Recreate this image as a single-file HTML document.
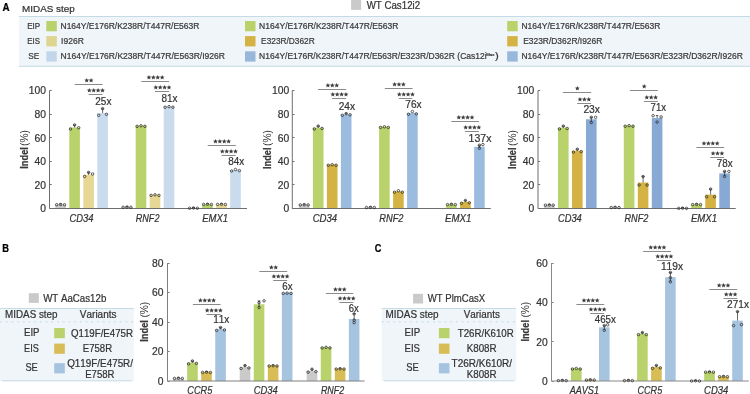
<!DOCTYPE html>
<html><head><meta charset="utf-8"><style>
html,body{margin:0;padding:0;background:#fff;width:750px;height:394px;overflow:hidden}
svg{display:block;will-change:transform}
text{font-family:"Liberation Sans",sans-serif}
</style></head><body>
<svg width="750" height="394" viewBox="0 0 750 394" font-family="Liberation Sans, sans-serif" fill="#333" style="font-kerning:none">
<rect x="0.00" y="0.00" width="750.00" height="394.00" fill="#ffffff"/>
<text x="2.46" y="10.60" font-size="10.20" font-weight="bold" fill="#000" stroke="#000" stroke-width="0.22" textLength="7.10" lengthAdjust="spacingAndGlyphs">A</text>
<text x="22.09" y="12.20" font-size="9.70" stroke="#333" stroke-width="0.22" textLength="52.62" lengthAdjust="spacingAndGlyphs">MIDAS step</text>
<rect x="351.10" y="-1.00" width="10.00" height="10.90" fill="#cacaca"/>
<text x="366.66" y="8.70" font-size="10.00" stroke="#333" stroke-width="0.22" textLength="53.43" lengthAdjust="spacingAndGlyphs">WT Cas12i2</text>
<rect x="19.00" y="16.00" width="731.00" height="50.50" fill="#f0f5f9"/>
<line x1="19.00" y1="16.50" x2="750.00" y2="16.50" stroke="#c4dbe6" stroke-width="1.00"/>
<line x1="19.00" y1="66.30" x2="750.00" y2="66.30" stroke="#c4dbe6" stroke-width="1.00"/>
<text x="27.24" y="29.20" font-size="8.70" fill="#3a3a3a" stroke="#3a3a3a" stroke-width="0.22" textLength="12.99" lengthAdjust="spacingAndGlyphs">EIP</text>
<text x="27.25" y="44.30" font-size="8.70" fill="#3a3a3a" stroke="#3a3a3a" stroke-width="0.22" textLength="12.71" lengthAdjust="spacingAndGlyphs">EIS</text>
<text x="28.32" y="59.20" font-size="8.70" fill="#3a3a3a" stroke="#3a3a3a" stroke-width="0.22" textLength="11.03" lengthAdjust="spacingAndGlyphs">SE</text>
<rect x="46.30" y="21.00" width="10.50" height="10.30" fill="#b9d26b"/>
<rect x="46.30" y="36.10" width="10.50" height="10.30" fill="#ddd590"/>
<rect x="46.30" y="51.30" width="10.50" height="10.30" fill="#c1d6eb"/>
<rect x="245.00" y="21.00" width="10.50" height="10.30" fill="#b9d26b"/>
<rect x="245.00" y="36.10" width="10.50" height="10.30" fill="#d4b344"/>
<rect x="245.00" y="51.30" width="10.50" height="10.30" fill="#98b8db"/>
<rect x="507.20" y="21.00" width="10.50" height="10.30" fill="#b9d26b"/>
<rect x="507.20" y="36.10" width="10.50" height="10.30" fill="#d4b344"/>
<rect x="507.20" y="51.30" width="10.50" height="10.30" fill="#98b8db"/>
<text x="60.50" y="29.20" font-size="8.70" fill="#3a3a3a" stroke="#3a3a3a" stroke-width="0.22" textLength="138.89" lengthAdjust="spacingAndGlyphs">N164Y/E176R/K238R/T447R/E563R</text>
<text x="61.12" y="44.30" font-size="8.70" fill="#3a3a3a" stroke="#3a3a3a" stroke-width="0.22" textLength="22.68" lengthAdjust="spacingAndGlyphs">I926R</text>
<text x="60.50" y="59.20" font-size="8.70" fill="#3a3a3a" stroke="#3a3a3a" stroke-width="0.22" textLength="164.50" lengthAdjust="spacingAndGlyphs">N164Y/E176R/K238R/T447R/E563R/I926R</text>
<text x="259.10" y="29.20" font-size="8.70" fill="#3a3a3a" stroke="#3a3a3a" stroke-width="0.22" textLength="139.19" lengthAdjust="spacingAndGlyphs">N164Y/E176R/K238R/T447R/E563R</text>
<text x="261.12" y="44.30" font-size="8.70" fill="#3a3a3a" stroke="#3a3a3a" stroke-width="0.22" textLength="53.57" lengthAdjust="spacingAndGlyphs">E323R/D362R</text>
<text x="259.10" y="59.20" font-size="8.70" fill="#3a3a3a" stroke="#3a3a3a" stroke-width="0.22" textLength="227.47" lengthAdjust="spacingAndGlyphs">N164Y/E176R/K238R/T447R/E563R/E323R/D362R (Cas12i</text>
<text x="486.24" y="56.40" font-size="4.00" fill="#3a3a3a" stroke="#3a3a3a" stroke-width="0.22" textLength="8.20" lengthAdjust="spacingAndGlyphs">Max</text>
<text x="494.93" y="59.20" font-size="8.70" fill="#3a3a3a" stroke="#3a3a3a" stroke-width="0.22" textLength="3.77" lengthAdjust="spacingAndGlyphs">)</text>
<text x="521.40" y="29.20" font-size="8.70" fill="#3a3a3a" stroke="#3a3a3a" stroke-width="0.22" textLength="138.99" lengthAdjust="spacingAndGlyphs">N164Y/E176R/K238R/T447R/E563R</text>
<text x="523.21" y="44.30" font-size="8.70" fill="#3a3a3a" stroke="#3a3a3a" stroke-width="0.22" textLength="79.08" lengthAdjust="spacingAndGlyphs">E323R/D362R/I926R</text>
<text x="521.40" y="59.20" font-size="8.70" fill="#3a3a3a" stroke="#3a3a3a" stroke-width="0.22" textLength="221.39" lengthAdjust="spacingAndGlyphs">N164Y/E176R/K238R/T447R/E563R/E323R/D362R/I926R</text>
<rect x="55.30" y="204.49" width="10.60" height="4.01" fill="#cacaca"/>
<rect x="69.30" y="127.55" width="10.60" height="80.95" fill="#b9d26b"/>
<rect x="83.30" y="174.75" width="10.60" height="33.75" fill="#e6d794"/>
<rect x="97.30" y="113.04" width="10.60" height="95.46" fill="#c9dbec"/>
<rect x="121.70" y="207.08" width="10.60" height="1.42" fill="#cacaca"/>
<rect x="135.70" y="125.55" width="10.60" height="82.95" fill="#b9d26b"/>
<rect x="149.70" y="194.58" width="10.60" height="13.92" fill="#e6d794"/>
<rect x="163.70" y="106.43" width="10.60" height="102.07" fill="#c9dbec"/>
<rect x="188.20" y="208.03" width="10.60" height="0.47" fill="#cacaca"/>
<rect x="202.20" y="204.25" width="10.60" height="4.25" fill="#b9d26b"/>
<rect x="216.20" y="204.25" width="10.60" height="4.25" fill="#e6d794"/>
<rect x="230.20" y="170.03" width="10.60" height="38.47" fill="#c9dbec"/>
<line x1="49.50" y1="208.50" x2="247.00" y2="208.50" stroke="#6e6e6e" stroke-width="1.00"/>
<line x1="49.50" y1="90.50" x2="49.50" y2="208.50" stroke="#6e6e6e" stroke-width="1.00"/>
<line x1="49.50" y1="208.50" x2="51.70" y2="208.50" stroke="#6e6e6e" stroke-width="1.00"/>
<text x="40.15" y="212.40" font-size="11.00" stroke="#333" stroke-width="0.22" textLength="5.75" lengthAdjust="spacingAndGlyphs">0</text>
<line x1="49.50" y1="184.50" x2="51.70" y2="184.50" stroke="#6e6e6e" stroke-width="1.00"/>
<text x="34.40" y="188.80" font-size="11.00" stroke="#333" stroke-width="0.22" textLength="11.50" lengthAdjust="spacingAndGlyphs">20</text>
<line x1="49.50" y1="161.50" x2="51.70" y2="161.50" stroke="#6e6e6e" stroke-width="1.00"/>
<text x="34.40" y="165.20" font-size="11.00" stroke="#333" stroke-width="0.22" textLength="11.50" lengthAdjust="spacingAndGlyphs">40</text>
<line x1="49.50" y1="137.50" x2="51.70" y2="137.50" stroke="#6e6e6e" stroke-width="1.00"/>
<text x="34.40" y="141.60" font-size="11.00" stroke="#333" stroke-width="0.22" textLength="11.50" lengthAdjust="spacingAndGlyphs">60</text>
<line x1="49.50" y1="114.50" x2="51.70" y2="114.50" stroke="#6e6e6e" stroke-width="1.00"/>
<text x="34.40" y="118.00" font-size="11.00" stroke="#333" stroke-width="0.22" textLength="11.50" lengthAdjust="spacingAndGlyphs">80</text>
<line x1="49.50" y1="90.50" x2="51.70" y2="90.50" stroke="#6e6e6e" stroke-width="1.00"/>
<text x="28.65" y="94.40" font-size="11.00" stroke="#333" stroke-width="0.22" textLength="17.25" lengthAdjust="spacingAndGlyphs">100</text>
<line x1="60.60" y1="203.89" x2="60.60" y2="204.49" stroke="#2a2a2a" stroke-width="0.70"/>
<line x1="59.30" y1="203.89" x2="61.90" y2="203.89" stroke="#2a2a2a" stroke-width="0.70"/>
<circle cx="56.70" cy="204.69" r="1.25" fill="none" stroke="#2a2a2a" stroke-width="0.75"/>
<circle cx="60.60" cy="204.49" r="1.25" fill="none" stroke="#2a2a2a" stroke-width="0.75"/>
<circle cx="64.50" cy="204.69" r="1.25" fill="none" stroke="#2a2a2a" stroke-width="0.75"/>
<line x1="74.60" y1="124.95" x2="74.60" y2="127.55" stroke="#2a2a2a" stroke-width="0.70"/>
<line x1="73.30" y1="124.95" x2="75.90" y2="124.95" stroke="#2a2a2a" stroke-width="0.70"/>
<circle cx="70.50" cy="129.05" r="1.25" fill="none" stroke="#2a2a2a" stroke-width="0.75"/>
<circle cx="78.70" cy="127.75" r="1.25" fill="none" stroke="#2a2a2a" stroke-width="0.75"/>
<circle cx="74.60" cy="124.95" r="1.25" fill="none" stroke="#2a2a2a" stroke-width="0.75"/>
<line x1="88.60" y1="172.25" x2="88.60" y2="174.75" stroke="#2a2a2a" stroke-width="0.70"/>
<line x1="87.30" y1="172.25" x2="89.90" y2="172.25" stroke="#2a2a2a" stroke-width="0.70"/>
<circle cx="84.60" cy="176.45" r="1.25" fill="none" stroke="#2a2a2a" stroke-width="0.75"/>
<circle cx="92.60" cy="173.95" r="1.25" fill="none" stroke="#2a2a2a" stroke-width="0.75"/>
<circle cx="88.60" cy="172.45" r="1.25" fill="none" stroke="#2a2a2a" stroke-width="0.75"/>
<line x1="102.60" y1="108.64" x2="102.60" y2="113.04" stroke="#2a2a2a" stroke-width="0.70"/>
<line x1="101.30" y1="108.64" x2="103.90" y2="108.64" stroke="#2a2a2a" stroke-width="0.70"/>
<circle cx="98.70" cy="115.34" r="1.25" fill="none" stroke="#2a2a2a" stroke-width="0.75"/>
<circle cx="106.50" cy="114.34" r="1.25" fill="none" stroke="#2a2a2a" stroke-width="0.75"/>
<circle cx="102.60" cy="108.64" r="1.25" fill="none" stroke="#2a2a2a" stroke-width="0.75"/>
<line x1="127.00" y1="206.48" x2="127.00" y2="207.08" stroke="#2a2a2a" stroke-width="0.70"/>
<line x1="125.70" y1="206.48" x2="128.30" y2="206.48" stroke="#2a2a2a" stroke-width="0.70"/>
<circle cx="123.10" cy="207.28" r="1.25" fill="none" stroke="#2a2a2a" stroke-width="0.75"/>
<circle cx="127.00" cy="207.08" r="1.25" fill="none" stroke="#2a2a2a" stroke-width="0.75"/>
<circle cx="130.90" cy="207.28" r="1.25" fill="none" stroke="#2a2a2a" stroke-width="0.75"/>
<circle cx="137.10" cy="126.35" r="1.25" fill="none" stroke="#2a2a2a" stroke-width="0.75"/>
<circle cx="141.00" cy="125.75" r="1.25" fill="none" stroke="#2a2a2a" stroke-width="0.75"/>
<circle cx="144.90" cy="126.35" r="1.25" fill="none" stroke="#2a2a2a" stroke-width="0.75"/>
<circle cx="151.10" cy="195.38" r="1.25" fill="none" stroke="#2a2a2a" stroke-width="0.75"/>
<circle cx="155.00" cy="194.78" r="1.25" fill="none" stroke="#2a2a2a" stroke-width="0.75"/>
<circle cx="158.90" cy="195.38" r="1.25" fill="none" stroke="#2a2a2a" stroke-width="0.75"/>
<circle cx="165.10" cy="107.23" r="1.25" fill="none" stroke="#2a2a2a" stroke-width="0.75"/>
<circle cx="169.00" cy="106.63" r="1.25" fill="none" stroke="#2a2a2a" stroke-width="0.75"/>
<circle cx="172.90" cy="107.23" r="1.25" fill="none" stroke="#2a2a2a" stroke-width="0.75"/>
<line x1="193.50" y1="207.43" x2="193.50" y2="208.03" stroke="#2a2a2a" stroke-width="0.70"/>
<line x1="192.20" y1="207.43" x2="194.80" y2="207.43" stroke="#2a2a2a" stroke-width="0.70"/>
<circle cx="189.60" cy="208.23" r="1.25" fill="none" stroke="#2a2a2a" stroke-width="0.75"/>
<circle cx="193.50" cy="208.03" r="1.25" fill="none" stroke="#2a2a2a" stroke-width="0.75"/>
<circle cx="197.40" cy="208.23" r="1.25" fill="none" stroke="#2a2a2a" stroke-width="0.75"/>
<line x1="207.50" y1="203.65" x2="207.50" y2="204.25" stroke="#2a2a2a" stroke-width="0.70"/>
<line x1="206.20" y1="203.65" x2="208.80" y2="203.65" stroke="#2a2a2a" stroke-width="0.70"/>
<circle cx="203.60" cy="204.45" r="1.25" fill="none" stroke="#2a2a2a" stroke-width="0.75"/>
<circle cx="207.50" cy="204.25" r="1.25" fill="none" stroke="#2a2a2a" stroke-width="0.75"/>
<circle cx="211.40" cy="204.45" r="1.25" fill="none" stroke="#2a2a2a" stroke-width="0.75"/>
<line x1="221.50" y1="203.65" x2="221.50" y2="204.25" stroke="#2a2a2a" stroke-width="0.70"/>
<line x1="220.20" y1="203.65" x2="222.80" y2="203.65" stroke="#2a2a2a" stroke-width="0.70"/>
<circle cx="217.60" cy="204.45" r="1.25" fill="none" stroke="#2a2a2a" stroke-width="0.75"/>
<circle cx="221.50" cy="204.25" r="1.25" fill="none" stroke="#2a2a2a" stroke-width="0.75"/>
<circle cx="225.40" cy="204.45" r="1.25" fill="none" stroke="#2a2a2a" stroke-width="0.75"/>
<circle cx="231.60" cy="171.03" r="1.25" fill="none" stroke="#2a2a2a" stroke-width="0.75"/>
<circle cx="235.50" cy="169.53" r="1.25" fill="none" stroke="#2a2a2a" stroke-width="0.75"/>
<circle cx="239.40" cy="170.63" r="1.25" fill="none" stroke="#2a2a2a" stroke-width="0.75"/>
<line x1="74.60" y1="84.50" x2="102.60" y2="84.50" stroke="#8a8a8a" stroke-width="1.00"/>
<polygon points="86.70,77.88 87.37,79.51 89.13,79.65 87.79,80.79 88.20,82.50 86.70,81.58 85.20,82.50 85.61,80.79 84.27,79.65 86.03,79.51" fill="#3c3c3c"/>
<polygon points="91.10,77.88 91.77,79.51 93.53,79.65 92.19,80.79 92.60,82.50 91.10,81.58 89.60,82.50 90.01,80.79 88.67,79.65 90.43,79.51" fill="#3c3c3c"/>
<line x1="88.70" y1="94.50" x2="102.50" y2="94.50" stroke="#8a8a8a" stroke-width="1.00"/>
<polygon points="89.30,87.88 89.97,89.51 91.73,89.65 90.39,90.79 90.80,92.50 89.30,91.58 87.80,92.50 88.21,90.79 86.87,89.65 88.63,89.51" fill="#3c3c3c"/>
<polygon points="93.70,87.88 94.37,89.51 96.13,89.65 94.79,90.79 95.20,92.50 93.70,91.58 92.20,92.50 92.61,90.79 91.27,89.65 93.03,89.51" fill="#3c3c3c"/>
<polygon points="98.10,87.88 98.77,89.51 100.53,89.65 99.19,90.79 99.60,92.50 98.10,91.58 96.60,92.50 97.01,90.79 95.67,89.65 97.43,89.51" fill="#3c3c3c"/>
<polygon points="102.50,87.88 103.17,89.51 104.93,89.65 103.59,90.79 104.00,92.50 102.50,91.58 101.00,92.50 101.41,90.79 100.07,89.65 101.83,89.51" fill="#3c3c3c"/>
<text x="95.30" y="105.00" font-size="11.00" stroke="#333" stroke-width="0.22" textLength="16.11" lengthAdjust="spacingAndGlyphs">25x</text>
<line x1="141.30" y1="81.50" x2="169.20" y2="81.50" stroke="#8a8a8a" stroke-width="1.00"/>
<polygon points="148.95,74.88 149.62,76.51 151.38,76.65 150.04,77.79 150.45,79.50 148.95,78.58 147.45,79.50 147.86,77.79 146.52,76.65 148.28,76.51" fill="#3c3c3c"/>
<polygon points="153.35,74.88 154.02,76.51 155.78,76.65 154.44,77.79 154.85,79.50 153.35,78.58 151.85,79.50 152.26,77.79 150.92,76.65 152.68,76.51" fill="#3c3c3c"/>
<polygon points="157.75,74.88 158.42,76.51 160.18,76.65 158.84,77.79 159.25,79.50 157.75,78.58 156.25,79.50 156.66,77.79 155.32,76.65 157.08,76.51" fill="#3c3c3c"/>
<polygon points="162.15,74.88 162.82,76.51 164.58,76.65 163.24,77.79 163.65,79.50 162.15,78.58 160.65,79.50 161.06,77.79 159.72,76.65 161.48,76.51" fill="#3c3c3c"/>
<line x1="155.00" y1="91.50" x2="169.20" y2="91.50" stroke="#8a8a8a" stroke-width="1.00"/>
<polygon points="155.80,84.88 156.47,86.51 158.23,86.65 156.89,87.79 157.30,89.50 155.80,88.58 154.30,89.50 154.71,87.79 153.37,86.65 155.13,86.51" fill="#3c3c3c"/>
<polygon points="160.20,84.88 160.87,86.51 162.63,86.65 161.29,87.79 161.70,89.50 160.20,88.58 158.70,89.50 159.11,87.79 157.77,86.65 159.53,86.51" fill="#3c3c3c"/>
<polygon points="164.60,84.88 165.27,86.51 167.03,86.65 165.69,87.79 166.10,89.50 164.60,88.58 163.10,89.50 163.51,87.79 162.17,86.65 163.93,86.51" fill="#3c3c3c"/>
<polygon points="169.00,84.88 169.67,86.51 171.43,86.65 170.09,87.79 170.50,89.50 169.00,88.58 167.50,89.50 167.91,87.79 166.57,86.65 168.33,86.51" fill="#3c3c3c"/>
<text x="161.57" y="102.00" font-size="11.00" stroke="#333" stroke-width="0.22" textLength="16.04" lengthAdjust="spacingAndGlyphs">81x</text>
<line x1="207.70" y1="145.50" x2="235.80" y2="145.50" stroke="#8a8a8a" stroke-width="1.00"/>
<polygon points="215.45,138.88 216.12,140.51 217.88,140.65 216.54,141.79 216.95,143.50 215.45,142.58 213.95,143.50 214.36,141.79 213.02,140.65 214.78,140.51" fill="#3c3c3c"/>
<polygon points="219.85,138.88 220.52,140.51 222.28,140.65 220.94,141.79 221.35,143.50 219.85,142.58 218.35,143.50 218.76,141.79 217.42,140.65 219.18,140.51" fill="#3c3c3c"/>
<polygon points="224.25,138.88 224.92,140.51 226.68,140.65 225.34,141.79 225.75,143.50 224.25,142.58 222.75,143.50 223.16,141.79 221.82,140.65 223.58,140.51" fill="#3c3c3c"/>
<polygon points="228.65,138.88 229.32,140.51 231.08,140.65 229.74,141.79 230.15,143.50 228.65,142.58 227.15,143.50 227.56,141.79 226.22,140.65 227.98,140.51" fill="#3c3c3c"/>
<line x1="221.60" y1="155.50" x2="235.60" y2="155.50" stroke="#8a8a8a" stroke-width="1.00"/>
<polygon points="222.30,148.88 222.97,150.51 224.73,150.65 223.39,151.79 223.80,153.50 222.30,152.58 220.80,153.50 221.21,151.79 219.87,150.65 221.63,150.51" fill="#3c3c3c"/>
<polygon points="226.70,148.88 227.37,150.51 229.13,150.65 227.79,151.79 228.20,153.50 226.70,152.58 225.20,153.50 225.61,151.79 224.27,150.65 226.03,150.51" fill="#3c3c3c"/>
<polygon points="231.10,148.88 231.77,150.51 233.53,150.65 232.19,151.79 232.60,153.50 231.10,152.58 229.60,153.50 230.01,151.79 228.67,150.65 230.43,150.51" fill="#3c3c3c"/>
<polygon points="235.50,148.88 236.17,150.51 237.93,150.65 236.59,151.79 237.00,153.50 235.50,152.58 234.00,153.50 234.41,151.79 233.07,150.65 234.83,150.51" fill="#3c3c3c"/>
<text x="228.37" y="165.40" font-size="11.00" stroke="#333" stroke-width="0.22" textLength="15.94" lengthAdjust="spacingAndGlyphs">84x</text>
<text x="69.38" y="221.70" font-size="10.40" font-style="italic" stroke="#333" stroke-width="0.22" textLength="24.07" lengthAdjust="spacingAndGlyphs">CD34</text>
<text x="135.82" y="221.70" font-size="10.40" font-style="italic" stroke="#333" stroke-width="0.22" textLength="23.61" lengthAdjust="spacingAndGlyphs">RNF2</text>
<text x="202.21" y="221.70" font-size="10.40" font-style="italic" stroke="#333" stroke-width="0.22" textLength="25.90" lengthAdjust="spacingAndGlyphs">EMX1</text>
<text transform="rotate(-90)" x="-168.72" y="28.20" font-size="10.00" font-weight="bold" fill="#3a3a3a" stroke="#3a3a3a" stroke-width="0.22" textLength="21.57" lengthAdjust="spacingAndGlyphs">Indel</text>
<text transform="rotate(-90)" x="-145.93" y="28.20" font-size="10.00" textLength="15.87" lengthAdjust="spacingAndGlyphs" stroke="none">(%)</text>
<rect x="298.90" y="204.72" width="10.60" height="3.78" fill="#cacaca"/>
<rect x="312.90" y="127.67" width="10.60" height="80.83" fill="#b9d26b"/>
<rect x="326.90" y="164.49" width="10.60" height="44.01" fill="#d4b344"/>
<rect x="340.90" y="114.45" width="10.60" height="94.05" fill="#9bbcdf"/>
<rect x="365.10" y="207.32" width="10.60" height="1.18" fill="#cacaca"/>
<rect x="379.10" y="126.61" width="10.60" height="81.89" fill="#b9d26b"/>
<rect x="393.10" y="191.39" width="10.60" height="17.11" fill="#d4b344"/>
<rect x="407.10" y="113.04" width="10.60" height="95.46" fill="#9bbcdf"/>
<rect x="432.10" y="208.26" width="10.60" height="0.24" fill="#cacaca"/>
<rect x="446.10" y="204.37" width="10.60" height="4.13" fill="#b9d26b"/>
<rect x="460.10" y="202.01" width="10.60" height="6.49" fill="#d4b344"/>
<rect x="474.10" y="146.79" width="10.60" height="61.71" fill="#9bbcdf"/>
<line x1="292.30" y1="208.50" x2="490.80" y2="208.50" stroke="#6e6e6e" stroke-width="1.00"/>
<line x1="292.30" y1="90.50" x2="292.30" y2="208.50" stroke="#6e6e6e" stroke-width="1.00"/>
<line x1="292.30" y1="208.50" x2="294.50" y2="208.50" stroke="#6e6e6e" stroke-width="1.00"/>
<text x="283.55" y="212.40" font-size="11.00" stroke="#333" stroke-width="0.22" textLength="5.75" lengthAdjust="spacingAndGlyphs">0</text>
<line x1="292.30" y1="184.50" x2="294.50" y2="184.50" stroke="#6e6e6e" stroke-width="1.00"/>
<text x="277.80" y="188.80" font-size="11.00" stroke="#333" stroke-width="0.22" textLength="11.50" lengthAdjust="spacingAndGlyphs">20</text>
<line x1="292.30" y1="161.50" x2="294.50" y2="161.50" stroke="#6e6e6e" stroke-width="1.00"/>
<text x="277.80" y="165.20" font-size="11.00" stroke="#333" stroke-width="0.22" textLength="11.50" lengthAdjust="spacingAndGlyphs">40</text>
<line x1="292.30" y1="137.50" x2="294.50" y2="137.50" stroke="#6e6e6e" stroke-width="1.00"/>
<text x="277.80" y="141.60" font-size="11.00" stroke="#333" stroke-width="0.22" textLength="11.50" lengthAdjust="spacingAndGlyphs">60</text>
<line x1="292.30" y1="114.50" x2="294.50" y2="114.50" stroke="#6e6e6e" stroke-width="1.00"/>
<text x="277.80" y="118.00" font-size="11.00" stroke="#333" stroke-width="0.22" textLength="11.50" lengthAdjust="spacingAndGlyphs">80</text>
<line x1="292.30" y1="90.50" x2="294.50" y2="90.50" stroke="#6e6e6e" stroke-width="1.00"/>
<text x="272.05" y="94.40" font-size="11.00" stroke="#333" stroke-width="0.22" textLength="17.25" lengthAdjust="spacingAndGlyphs">100</text>
<line x1="304.20" y1="204.12" x2="304.20" y2="204.72" stroke="#2a2a2a" stroke-width="0.70"/>
<line x1="302.90" y1="204.12" x2="305.50" y2="204.12" stroke="#2a2a2a" stroke-width="0.70"/>
<circle cx="300.30" cy="204.92" r="1.25" fill="none" stroke="#2a2a2a" stroke-width="0.75"/>
<circle cx="304.20" cy="204.72" r="1.25" fill="none" stroke="#2a2a2a" stroke-width="0.75"/>
<circle cx="308.10" cy="204.92" r="1.25" fill="none" stroke="#2a2a2a" stroke-width="0.75"/>
<line x1="318.20" y1="126.07" x2="318.20" y2="127.67" stroke="#2a2a2a" stroke-width="0.70"/>
<line x1="316.90" y1="126.07" x2="319.50" y2="126.07" stroke="#2a2a2a" stroke-width="0.70"/>
<circle cx="314.30" cy="128.97" r="1.25" fill="none" stroke="#2a2a2a" stroke-width="0.75"/>
<circle cx="322.10" cy="128.47" r="1.25" fill="none" stroke="#2a2a2a" stroke-width="0.75"/>
<circle cx="318.20" cy="126.07" r="1.25" fill="none" stroke="#2a2a2a" stroke-width="0.75"/>
<circle cx="328.30" cy="165.29" r="1.25" fill="none" stroke="#2a2a2a" stroke-width="0.75"/>
<circle cx="332.20" cy="164.69" r="1.25" fill="none" stroke="#2a2a2a" stroke-width="0.75"/>
<circle cx="336.10" cy="165.29" r="1.25" fill="none" stroke="#2a2a2a" stroke-width="0.75"/>
<line x1="346.20" y1="113.25" x2="346.20" y2="114.45" stroke="#2a2a2a" stroke-width="0.70"/>
<line x1="344.90" y1="113.25" x2="347.50" y2="113.25" stroke="#2a2a2a" stroke-width="0.70"/>
<circle cx="342.30" cy="115.25" r="1.25" fill="none" stroke="#2a2a2a" stroke-width="0.75"/>
<circle cx="350.10" cy="114.75" r="1.25" fill="none" stroke="#2a2a2a" stroke-width="0.75"/>
<circle cx="346.20" cy="113.65" r="1.25" fill="none" stroke="#2a2a2a" stroke-width="0.75"/>
<line x1="370.40" y1="206.72" x2="370.40" y2="207.32" stroke="#2a2a2a" stroke-width="0.70"/>
<line x1="369.10" y1="206.72" x2="371.70" y2="206.72" stroke="#2a2a2a" stroke-width="0.70"/>
<circle cx="366.50" cy="207.52" r="1.25" fill="none" stroke="#2a2a2a" stroke-width="0.75"/>
<circle cx="370.40" cy="207.32" r="1.25" fill="none" stroke="#2a2a2a" stroke-width="0.75"/>
<circle cx="374.30" cy="207.52" r="1.25" fill="none" stroke="#2a2a2a" stroke-width="0.75"/>
<circle cx="380.50" cy="127.41" r="1.25" fill="none" stroke="#2a2a2a" stroke-width="0.75"/>
<circle cx="384.40" cy="126.81" r="1.25" fill="none" stroke="#2a2a2a" stroke-width="0.75"/>
<circle cx="388.30" cy="127.41" r="1.25" fill="none" stroke="#2a2a2a" stroke-width="0.75"/>
<circle cx="394.50" cy="192.19" r="1.25" fill="none" stroke="#2a2a2a" stroke-width="0.75"/>
<circle cx="398.40" cy="190.79" r="1.25" fill="none" stroke="#2a2a2a" stroke-width="0.75"/>
<circle cx="402.30" cy="192.19" r="1.25" fill="none" stroke="#2a2a2a" stroke-width="0.75"/>
<circle cx="408.50" cy="114.24" r="1.25" fill="none" stroke="#2a2a2a" stroke-width="0.75"/>
<circle cx="416.30" cy="113.84" r="1.25" fill="none" stroke="#2a2a2a" stroke-width="0.75"/>
<circle cx="412.40" cy="111.54" r="1.25" fill="none" stroke="#2a2a2a" stroke-width="0.75"/>
<line x1="451.40" y1="203.77" x2="451.40" y2="204.37" stroke="#2a2a2a" stroke-width="0.70"/>
<line x1="450.10" y1="203.77" x2="452.70" y2="203.77" stroke="#2a2a2a" stroke-width="0.70"/>
<circle cx="447.50" cy="204.57" r="1.25" fill="none" stroke="#2a2a2a" stroke-width="0.75"/>
<circle cx="451.40" cy="204.37" r="1.25" fill="none" stroke="#2a2a2a" stroke-width="0.75"/>
<circle cx="455.30" cy="204.57" r="1.25" fill="none" stroke="#2a2a2a" stroke-width="0.75"/>
<line x1="465.40" y1="200.41" x2="465.40" y2="202.01" stroke="#2a2a2a" stroke-width="0.70"/>
<line x1="464.10" y1="200.41" x2="466.70" y2="200.41" stroke="#2a2a2a" stroke-width="0.70"/>
<circle cx="461.50" cy="203.31" r="1.25" fill="none" stroke="#2a2a2a" stroke-width="0.75"/>
<circle cx="469.30" cy="202.81" r="1.25" fill="none" stroke="#2a2a2a" stroke-width="0.75"/>
<circle cx="465.40" cy="200.41" r="1.25" fill="none" stroke="#2a2a2a" stroke-width="0.75"/>
<line x1="479.40" y1="145.29" x2="479.40" y2="148.29" stroke="#2a2a2a" stroke-width="0.70"/>
<line x1="478.10" y1="145.29" x2="480.70" y2="145.29" stroke="#2a2a2a" stroke-width="0.70"/>
<circle cx="479.40" cy="145.29" r="1.25" fill="none" stroke="#2a2a2a" stroke-width="0.75"/>
<circle cx="482.90" cy="144.59" r="1.25" fill="none" stroke="#2a2a2a" stroke-width="0.75"/>
<circle cx="479.40" cy="148.29" r="1.25" fill="none" stroke="#2a2a2a" stroke-width="0.75"/>
<line x1="317.90" y1="89.50" x2="346.10" y2="89.50" stroke="#8a8a8a" stroke-width="1.00"/>
<polygon points="327.90,82.88 328.57,84.51 330.33,84.65 328.99,85.79 329.40,87.50 327.90,86.58 326.40,87.50 326.81,85.79 325.47,84.65 327.23,84.51" fill="#3c3c3c"/>
<polygon points="332.30,82.88 332.97,84.51 334.73,84.65 333.39,85.79 333.80,87.50 332.30,86.58 330.80,87.50 331.21,85.79 329.87,84.65 331.63,84.51" fill="#3c3c3c"/>
<polygon points="336.70,82.88 337.37,84.51 339.13,84.65 337.79,85.79 338.20,87.50 336.70,86.58 335.20,87.50 335.61,85.79 334.27,84.65 336.03,84.51" fill="#3c3c3c"/>
<line x1="332.10" y1="98.50" x2="346.10" y2="98.50" stroke="#8a8a8a" stroke-width="1.00"/>
<polygon points="332.80,91.88 333.47,93.51 335.23,93.65 333.89,94.79 334.30,96.50 332.80,95.58 331.30,96.50 331.71,94.79 330.37,93.65 332.13,93.51" fill="#3c3c3c"/>
<polygon points="337.20,91.88 337.87,93.51 339.63,93.65 338.29,94.79 338.70,96.50 337.20,95.58 335.70,96.50 336.11,94.79 334.77,93.65 336.53,93.51" fill="#3c3c3c"/>
<polygon points="341.60,91.88 342.27,93.51 344.03,93.65 342.69,94.79 343.10,96.50 341.60,95.58 340.10,96.50 340.51,94.79 339.17,93.65 340.93,93.51" fill="#3c3c3c"/>
<polygon points="346.00,91.88 346.67,93.51 348.43,93.65 347.09,94.79 347.50,96.50 346.00,95.58 344.50,96.50 344.91,94.79 343.57,93.65 345.33,93.51" fill="#3c3c3c"/>
<text x="338.69" y="109.90" font-size="11.00" stroke="#333" stroke-width="0.22" textLength="16.32" lengthAdjust="spacingAndGlyphs">24x</text>
<line x1="384.80" y1="88.50" x2="412.60" y2="88.50" stroke="#8a8a8a" stroke-width="1.00"/>
<polygon points="394.60,81.88 395.27,83.51 397.03,83.65 395.69,84.79 396.10,86.50 394.60,85.58 393.10,86.50 393.51,84.79 392.17,83.65 393.93,83.51" fill="#3c3c3c"/>
<polygon points="399.00,81.88 399.67,83.51 401.43,83.65 400.09,84.79 400.50,86.50 399.00,85.58 397.50,86.50 397.91,84.79 396.57,83.65 398.33,83.51" fill="#3c3c3c"/>
<polygon points="403.40,81.88 404.07,83.51 405.83,83.65 404.49,84.79 404.90,86.50 403.40,85.58 401.90,86.50 402.31,84.79 400.97,83.65 402.73,83.51" fill="#3c3c3c"/>
<line x1="398.90" y1="98.50" x2="412.30" y2="98.50" stroke="#8a8a8a" stroke-width="1.00"/>
<polygon points="399.30,91.88 399.97,93.51 401.73,93.65 400.39,94.79 400.80,96.50 399.30,95.58 397.80,96.50 398.21,94.79 396.87,93.65 398.63,93.51" fill="#3c3c3c"/>
<polygon points="403.70,91.88 404.37,93.51 406.13,93.65 404.79,94.79 405.20,96.50 403.70,95.58 402.20,96.50 402.61,94.79 401.27,93.65 403.03,93.51" fill="#3c3c3c"/>
<polygon points="408.10,91.88 408.77,93.51 410.53,93.65 409.19,94.79 409.60,96.50 408.10,95.58 406.60,96.50 407.01,94.79 405.67,93.65 407.43,93.51" fill="#3c3c3c"/>
<polygon points="412.50,91.88 413.17,93.51 414.93,93.65 413.59,94.79 414.00,96.50 412.50,95.58 411.00,96.50 411.41,94.79 410.07,93.65 411.83,93.51" fill="#3c3c3c"/>
<text x="405.28" y="108.40" font-size="11.00" stroke="#333" stroke-width="0.22" textLength="16.33" lengthAdjust="spacingAndGlyphs">76x</text>
<line x1="451.30" y1="121.50" x2="478.90" y2="121.50" stroke="#8a8a8a" stroke-width="1.00"/>
<polygon points="458.80,114.88 459.47,116.51 461.23,116.65 459.89,117.79 460.30,119.50 458.80,118.58 457.30,119.50 457.71,117.79 456.37,116.65 458.13,116.51" fill="#3c3c3c"/>
<polygon points="463.20,114.88 463.87,116.51 465.63,116.65 464.29,117.79 464.70,119.50 463.20,118.58 461.70,119.50 462.11,117.79 460.77,116.65 462.53,116.51" fill="#3c3c3c"/>
<polygon points="467.60,114.88 468.27,116.51 470.03,116.65 468.69,117.79 469.10,119.50 467.60,118.58 466.10,119.50 466.51,117.79 465.17,116.65 466.93,116.51" fill="#3c3c3c"/>
<polygon points="472.00,114.88 472.67,116.51 474.43,116.65 473.09,117.79 473.50,119.50 472.00,118.58 470.50,119.50 470.91,117.79 469.57,116.65 471.33,116.51" fill="#3c3c3c"/>
<line x1="465.00" y1="131.50" x2="478.90" y2="131.50" stroke="#8a8a8a" stroke-width="1.00"/>
<polygon points="465.65,124.88 466.32,126.51 468.08,126.65 466.74,127.79 467.15,129.50 465.65,128.58 464.15,129.50 464.56,127.79 463.22,126.65 464.98,126.51" fill="#3c3c3c"/>
<polygon points="470.05,124.88 470.72,126.51 472.48,126.65 471.14,127.79 471.55,129.50 470.05,128.58 468.55,129.50 468.96,127.79 467.62,126.65 469.38,126.51" fill="#3c3c3c"/>
<polygon points="474.45,124.88 475.12,126.51 476.88,126.65 475.54,127.79 475.95,129.50 474.45,128.58 472.95,129.50 473.36,127.79 472.02,126.65 473.78,126.51" fill="#3c3c3c"/>
<polygon points="478.85,124.88 479.52,126.51 481.28,126.65 479.94,127.79 480.35,129.50 478.85,128.58 477.35,129.50 477.76,127.79 476.42,126.65 478.18,126.51" fill="#3c3c3c"/>
<text x="468.60" y="142.30" font-size="11.00" stroke="#333" stroke-width="0.22" textLength="22.81" lengthAdjust="spacingAndGlyphs">137x</text>
<text x="312.67" y="221.70" font-size="10.40" font-style="italic" stroke="#333" stroke-width="0.22" textLength="24.49" lengthAdjust="spacingAndGlyphs">CD34</text>
<text x="379.31" y="221.70" font-size="10.40" font-style="italic" stroke="#333" stroke-width="0.22" textLength="24.22" lengthAdjust="spacingAndGlyphs">RNF2</text>
<text x="445.10" y="221.70" font-size="10.40" font-style="italic" stroke="#333" stroke-width="0.22" textLength="26.31" lengthAdjust="spacingAndGlyphs">EMX1</text>
<text transform="rotate(-90)" x="-169.02" y="270.80" font-size="10.00" font-weight="bold" fill="#3a3a3a" stroke="#3a3a3a" stroke-width="0.22" textLength="21.57" lengthAdjust="spacingAndGlyphs">Indel</text>
<text transform="rotate(-90)" x="-145.93" y="270.80" font-size="10.00" textLength="15.87" lengthAdjust="spacingAndGlyphs" stroke="none">(%)</text>
<rect x="544.00" y="204.96" width="10.60" height="3.54" fill="#cacaca"/>
<rect x="558.00" y="127.67" width="10.60" height="80.83" fill="#b9d26b"/>
<rect x="572.00" y="150.80" width="10.60" height="57.70" fill="#d4b344"/>
<rect x="586.00" y="119.29" width="10.60" height="89.21" fill="#87a9d4"/>
<rect x="609.80" y="207.32" width="10.60" height="1.18" fill="#cacaca"/>
<rect x="623.80" y="125.43" width="10.60" height="83.07" fill="#b9d26b"/>
<rect x="637.80" y="182.54" width="10.60" height="25.96" fill="#d4b344"/>
<rect x="651.80" y="118.11" width="10.60" height="90.39" fill="#87a9d4"/>
<rect x="677.30" y="208.15" width="10.60" height="0.35" fill="#cacaca"/>
<rect x="691.30" y="204.37" width="10.60" height="4.13" fill="#b9d26b"/>
<rect x="705.30" y="194.58" width="10.60" height="13.92" fill="#d4b344"/>
<rect x="719.30" y="173.45" width="10.60" height="35.05" fill="#87a9d4"/>
<line x1="538.00" y1="208.50" x2="735.70" y2="208.50" stroke="#6e6e6e" stroke-width="1.00"/>
<line x1="538.00" y1="90.50" x2="538.00" y2="208.50" stroke="#6e6e6e" stroke-width="1.00"/>
<line x1="538.00" y1="208.50" x2="540.20" y2="208.50" stroke="#6e6e6e" stroke-width="1.00"/>
<text x="528.45" y="212.40" font-size="11.00" stroke="#333" stroke-width="0.22" textLength="5.75" lengthAdjust="spacingAndGlyphs">0</text>
<line x1="538.00" y1="184.50" x2="540.20" y2="184.50" stroke="#6e6e6e" stroke-width="1.00"/>
<text x="522.70" y="188.80" font-size="11.00" stroke="#333" stroke-width="0.22" textLength="11.50" lengthAdjust="spacingAndGlyphs">20</text>
<line x1="538.00" y1="161.50" x2="540.20" y2="161.50" stroke="#6e6e6e" stroke-width="1.00"/>
<text x="522.70" y="165.20" font-size="11.00" stroke="#333" stroke-width="0.22" textLength="11.50" lengthAdjust="spacingAndGlyphs">40</text>
<line x1="538.00" y1="137.50" x2="540.20" y2="137.50" stroke="#6e6e6e" stroke-width="1.00"/>
<text x="522.70" y="141.60" font-size="11.00" stroke="#333" stroke-width="0.22" textLength="11.50" lengthAdjust="spacingAndGlyphs">60</text>
<line x1="538.00" y1="114.50" x2="540.20" y2="114.50" stroke="#6e6e6e" stroke-width="1.00"/>
<text x="522.70" y="118.00" font-size="11.00" stroke="#333" stroke-width="0.22" textLength="11.50" lengthAdjust="spacingAndGlyphs">80</text>
<line x1="538.00" y1="90.50" x2="540.20" y2="90.50" stroke="#6e6e6e" stroke-width="1.00"/>
<text x="516.95" y="94.40" font-size="11.00" stroke="#333" stroke-width="0.22" textLength="17.25" lengthAdjust="spacingAndGlyphs">100</text>
<line x1="549.30" y1="204.36" x2="549.30" y2="204.96" stroke="#2a2a2a" stroke-width="0.70"/>
<line x1="548.00" y1="204.36" x2="550.60" y2="204.36" stroke="#2a2a2a" stroke-width="0.70"/>
<circle cx="545.40" cy="205.16" r="1.25" fill="none" stroke="#2a2a2a" stroke-width="0.75"/>
<circle cx="549.30" cy="204.96" r="1.25" fill="none" stroke="#2a2a2a" stroke-width="0.75"/>
<circle cx="553.20" cy="205.16" r="1.25" fill="none" stroke="#2a2a2a" stroke-width="0.75"/>
<line x1="563.30" y1="126.07" x2="563.30" y2="127.67" stroke="#2a2a2a" stroke-width="0.70"/>
<line x1="562.00" y1="126.07" x2="564.60" y2="126.07" stroke="#2a2a2a" stroke-width="0.70"/>
<circle cx="559.40" cy="128.97" r="1.25" fill="none" stroke="#2a2a2a" stroke-width="0.75"/>
<circle cx="567.20" cy="128.47" r="1.25" fill="none" stroke="#2a2a2a" stroke-width="0.75"/>
<circle cx="563.30" cy="126.07" r="1.25" fill="none" stroke="#2a2a2a" stroke-width="0.75"/>
<line x1="577.30" y1="149.20" x2="577.30" y2="150.80" stroke="#2a2a2a" stroke-width="0.70"/>
<line x1="576.00" y1="149.20" x2="578.60" y2="149.20" stroke="#2a2a2a" stroke-width="0.70"/>
<circle cx="573.40" cy="152.10" r="1.25" fill="none" stroke="#2a2a2a" stroke-width="0.75"/>
<circle cx="581.20" cy="151.60" r="1.25" fill="none" stroke="#2a2a2a" stroke-width="0.75"/>
<circle cx="577.30" cy="149.20" r="1.25" fill="none" stroke="#2a2a2a" stroke-width="0.75"/>
<line x1="591.30" y1="117.29" x2="591.30" y2="122.49" stroke="#2a2a2a" stroke-width="0.70"/>
<line x1="590.00" y1="117.29" x2="592.60" y2="117.29" stroke="#2a2a2a" stroke-width="0.70"/>
<circle cx="591.30" cy="117.29" r="1.25" fill="none" stroke="#2a2a2a" stroke-width="0.75"/>
<circle cx="595.60" cy="117.29" r="1.25" fill="none" stroke="#2a2a2a" stroke-width="0.75"/>
<circle cx="591.30" cy="122.49" r="1.25" fill="none" stroke="#2a2a2a" stroke-width="0.75"/>
<line x1="615.10" y1="206.72" x2="615.10" y2="207.32" stroke="#2a2a2a" stroke-width="0.70"/>
<line x1="613.80" y1="206.72" x2="616.40" y2="206.72" stroke="#2a2a2a" stroke-width="0.70"/>
<circle cx="611.20" cy="207.52" r="1.25" fill="none" stroke="#2a2a2a" stroke-width="0.75"/>
<circle cx="615.10" cy="207.32" r="1.25" fill="none" stroke="#2a2a2a" stroke-width="0.75"/>
<circle cx="619.00" cy="207.52" r="1.25" fill="none" stroke="#2a2a2a" stroke-width="0.75"/>
<circle cx="625.20" cy="126.23" r="1.25" fill="none" stroke="#2a2a2a" stroke-width="0.75"/>
<circle cx="629.10" cy="125.63" r="1.25" fill="none" stroke="#2a2a2a" stroke-width="0.75"/>
<circle cx="633.00" cy="126.23" r="1.25" fill="none" stroke="#2a2a2a" stroke-width="0.75"/>
<line x1="643.10" y1="176.54" x2="643.10" y2="182.54" stroke="#2a2a2a" stroke-width="0.70"/>
<line x1="641.80" y1="176.54" x2="644.40" y2="176.54" stroke="#2a2a2a" stroke-width="0.70"/>
<circle cx="639.10" cy="185.04" r="1.25" fill="none" stroke="#2a2a2a" stroke-width="0.75"/>
<circle cx="647.10" cy="185.04" r="1.25" fill="none" stroke="#2a2a2a" stroke-width="0.75"/>
<circle cx="643.10" cy="176.54" r="1.25" fill="none" stroke="#2a2a2a" stroke-width="0.75"/>
<line x1="657.10" y1="115.51" x2="657.10" y2="118.11" stroke="#2a2a2a" stroke-width="0.70"/>
<line x1="655.80" y1="115.51" x2="658.40" y2="115.51" stroke="#2a2a2a" stroke-width="0.70"/>
<circle cx="653.10" cy="115.71" r="1.25" fill="none" stroke="#2a2a2a" stroke-width="0.75"/>
<circle cx="661.10" cy="116.91" r="1.25" fill="none" stroke="#2a2a2a" stroke-width="0.75"/>
<circle cx="657.10" cy="122.11" r="1.25" fill="none" stroke="#2a2a2a" stroke-width="0.75"/>
<line x1="682.60" y1="207.55" x2="682.60" y2="208.15" stroke="#2a2a2a" stroke-width="0.70"/>
<line x1="681.30" y1="207.55" x2="683.90" y2="207.55" stroke="#2a2a2a" stroke-width="0.70"/>
<circle cx="678.70" cy="208.35" r="1.25" fill="none" stroke="#2a2a2a" stroke-width="0.75"/>
<circle cx="682.60" cy="208.15" r="1.25" fill="none" stroke="#2a2a2a" stroke-width="0.75"/>
<circle cx="686.50" cy="208.35" r="1.25" fill="none" stroke="#2a2a2a" stroke-width="0.75"/>
<line x1="696.60" y1="203.77" x2="696.60" y2="204.37" stroke="#2a2a2a" stroke-width="0.70"/>
<line x1="695.30" y1="203.77" x2="697.90" y2="203.77" stroke="#2a2a2a" stroke-width="0.70"/>
<circle cx="692.70" cy="204.57" r="1.25" fill="none" stroke="#2a2a2a" stroke-width="0.75"/>
<circle cx="696.60" cy="204.37" r="1.25" fill="none" stroke="#2a2a2a" stroke-width="0.75"/>
<circle cx="700.50" cy="204.57" r="1.25" fill="none" stroke="#2a2a2a" stroke-width="0.75"/>
<line x1="710.60" y1="189.08" x2="710.60" y2="194.58" stroke="#2a2a2a" stroke-width="0.70"/>
<line x1="709.30" y1="189.08" x2="711.90" y2="189.08" stroke="#2a2a2a" stroke-width="0.70"/>
<circle cx="706.60" cy="196.78" r="1.25" fill="none" stroke="#2a2a2a" stroke-width="0.75"/>
<circle cx="714.60" cy="196.78" r="1.25" fill="none" stroke="#2a2a2a" stroke-width="0.75"/>
<circle cx="710.60" cy="189.08" r="1.25" fill="none" stroke="#2a2a2a" stroke-width="0.75"/>
<line x1="724.60" y1="171.45" x2="724.60" y2="176.45" stroke="#2a2a2a" stroke-width="0.70"/>
<line x1="723.30" y1="171.45" x2="725.90" y2="171.45" stroke="#2a2a2a" stroke-width="0.70"/>
<circle cx="724.60" cy="171.45" r="1.25" fill="none" stroke="#2a2a2a" stroke-width="0.75"/>
<circle cx="728.90" cy="171.45" r="1.25" fill="none" stroke="#2a2a2a" stroke-width="0.75"/>
<circle cx="724.60" cy="176.45" r="1.25" fill="none" stroke="#2a2a2a" stroke-width="0.75"/>
<line x1="562.90" y1="92.50" x2="591.20" y2="92.50" stroke="#8a8a8a" stroke-width="1.00"/>
<polygon points="577.35,85.88 578.02,87.51 579.78,87.65 578.44,88.79 578.85,90.50 577.35,89.58 575.85,90.50 576.26,88.79 574.92,87.65 576.68,87.51" fill="#3c3c3c"/>
<line x1="577.10" y1="103.50" x2="591.10" y2="103.50" stroke="#8a8a8a" stroke-width="1.00"/>
<polygon points="580.00,96.88 580.67,98.51 582.43,98.65 581.09,99.79 581.50,101.50 580.00,100.58 578.50,101.50 578.91,99.79 577.57,98.65 579.33,98.51" fill="#3c3c3c"/>
<polygon points="584.40,96.88 585.07,98.51 586.83,98.65 585.49,99.79 585.90,101.50 584.40,100.58 582.90,101.50 583.31,99.79 581.97,98.65 583.73,98.51" fill="#3c3c3c"/>
<polygon points="588.80,96.88 589.47,98.51 591.23,98.65 589.89,99.79 590.30,101.50 588.80,100.58 587.30,101.50 587.71,99.79 586.37,98.65 588.13,98.51" fill="#3c3c3c"/>
<text x="583.38" y="112.70" font-size="11.00" stroke="#333" stroke-width="0.22" textLength="16.63" lengthAdjust="spacingAndGlyphs">23x</text>
<line x1="629.90" y1="90.50" x2="657.90" y2="90.50" stroke="#8a8a8a" stroke-width="1.00"/>
<polygon points="644.20,83.88 644.87,85.51 646.63,85.65 645.29,86.79 645.70,88.50 644.20,87.58 642.70,88.50 643.11,86.79 641.77,85.65 643.53,85.51" fill="#3c3c3c"/>
<line x1="643.90" y1="101.50" x2="657.90" y2="101.50" stroke="#8a8a8a" stroke-width="1.00"/>
<polygon points="646.80,94.88 647.47,96.51 649.23,96.65 647.89,97.79 648.30,99.50 646.80,98.58 645.30,99.50 645.71,97.79 644.37,96.65 646.13,96.51" fill="#3c3c3c"/>
<polygon points="651.20,94.88 651.87,96.51 653.63,96.65 652.29,97.79 652.70,99.50 651.20,98.58 649.70,99.50 650.11,97.79 648.77,96.65 650.53,96.51" fill="#3c3c3c"/>
<polygon points="655.60,94.88 656.27,96.51 658.03,96.65 656.69,97.79 657.10,99.50 655.60,98.58 654.10,99.50 654.51,97.79 653.17,96.65 654.93,96.51" fill="#3c3c3c"/>
<text x="650.61" y="110.50" font-size="11.00" stroke="#333" stroke-width="0.22" textLength="15.50" lengthAdjust="spacingAndGlyphs">71x</text>
<line x1="696.40" y1="147.50" x2="724.20" y2="147.50" stroke="#8a8a8a" stroke-width="1.00"/>
<polygon points="704.00,140.88 704.67,142.51 706.43,142.65 705.09,143.79 705.50,145.50 704.00,144.58 702.50,145.50 702.91,143.79 701.57,142.65 703.33,142.51" fill="#3c3c3c"/>
<polygon points="708.40,140.88 709.07,142.51 710.83,142.65 709.49,143.79 709.90,145.50 708.40,144.58 706.90,145.50 707.31,143.79 705.97,142.65 707.73,142.51" fill="#3c3c3c"/>
<polygon points="712.80,140.88 713.47,142.51 715.23,142.65 713.89,143.79 714.30,145.50 712.80,144.58 711.30,145.50 711.71,143.79 710.37,142.65 712.13,142.51" fill="#3c3c3c"/>
<polygon points="717.20,140.88 717.87,142.51 719.63,142.65 718.29,143.79 718.70,145.50 717.20,144.58 715.70,145.50 716.11,143.79 714.77,142.65 716.53,142.51" fill="#3c3c3c"/>
<line x1="710.20" y1="157.50" x2="724.20" y2="157.50" stroke="#8a8a8a" stroke-width="1.00"/>
<polygon points="713.10,150.88 713.77,152.51 715.53,152.65 714.19,153.79 714.60,155.50 713.10,154.58 711.60,155.50 712.01,153.79 710.67,152.65 712.43,152.51" fill="#3c3c3c"/>
<polygon points="717.50,150.88 718.17,152.51 719.93,152.65 718.59,153.79 719.00,155.50 717.50,154.58 716.00,155.50 716.41,153.79 715.07,152.65 716.83,152.51" fill="#3c3c3c"/>
<polygon points="721.90,150.88 722.57,152.51 724.33,152.65 722.99,153.79 723.40,155.50 721.90,154.58 720.40,155.50 720.81,153.79 719.47,152.65 721.23,152.51" fill="#3c3c3c"/>
<text x="716.80" y="167.30" font-size="11.00" stroke="#333" stroke-width="0.22" textLength="15.81" lengthAdjust="spacingAndGlyphs">78x</text>
<text x="557.99" y="221.70" font-size="10.40" font-style="italic" stroke="#333" stroke-width="0.22" textLength="23.76" lengthAdjust="spacingAndGlyphs">CD34</text>
<text x="624.42" y="221.70" font-size="10.40" font-style="italic" stroke="#333" stroke-width="0.22" textLength="23.92" lengthAdjust="spacingAndGlyphs">RNF2</text>
<text x="690.91" y="221.70" font-size="10.40" font-style="italic" stroke="#333" stroke-width="0.22" textLength="26.10" lengthAdjust="spacingAndGlyphs">EMX1</text>
<text transform="rotate(-90)" x="-169.02" y="515.80" font-size="10.00" font-weight="bold" fill="#3a3a3a" stroke="#3a3a3a" stroke-width="0.22" textLength="21.57" lengthAdjust="spacingAndGlyphs">Indel</text>
<text transform="rotate(-90)" x="-145.93" y="515.80" font-size="10.00" textLength="15.87" lengthAdjust="spacingAndGlyphs" stroke="none">(%)</text>
<text x="2.27" y="252.30" font-size="10.20" font-weight="bold" fill="#000" stroke="#000" stroke-width="0.22" textLength="6.75" lengthAdjust="spacingAndGlyphs">B</text>
<rect x="173.10" y="378.20" width="10.60" height="2.80" fill="#cacaca"/>
<rect x="187.15" y="362.57" width="10.60" height="18.43" fill="#b9d26b"/>
<rect x="201.20" y="371.86" width="10.60" height="9.14" fill="#d8bc55"/>
<rect x="215.25" y="329.12" width="10.60" height="51.88" fill="#a6c3e0"/>
<rect x="239.70" y="367.14" width="10.60" height="13.86" fill="#cacaca"/>
<rect x="253.75" y="304.35" width="10.60" height="76.65" fill="#b9d26b"/>
<rect x="267.80" y="365.38" width="10.60" height="15.62" fill="#d8bc55"/>
<rect x="281.85" y="292.56" width="10.60" height="88.44" fill="#a6c3e0"/>
<rect x="306.70" y="370.83" width="10.60" height="10.17" fill="#cacaca"/>
<rect x="320.75" y="347.10" width="10.60" height="33.90" fill="#b9d26b"/>
<rect x="334.80" y="368.47" width="10.60" height="12.53" fill="#d8bc55"/>
<rect x="348.85" y="318.94" width="10.60" height="62.06" fill="#a6c3e0"/>
<line x1="167.50" y1="381.00" x2="364.60" y2="381.00" stroke="#808080" stroke-width="1.00"/>
<line x1="167.50" y1="263.08" x2="167.50" y2="381.00" stroke="#808080" stroke-width="1.00"/>
<line x1="167.50" y1="381.50" x2="169.70" y2="381.50" stroke="#808080" stroke-width="1.00"/>
<text x="157.85" y="384.90" font-size="11.00" stroke="#333" stroke-width="0.22" textLength="5.75" lengthAdjust="spacingAndGlyphs">0</text>
<line x1="167.50" y1="351.50" x2="169.70" y2="351.50" stroke="#808080" stroke-width="1.00"/>
<text x="152.10" y="355.42" font-size="11.00" stroke="#333" stroke-width="0.22" textLength="11.50" lengthAdjust="spacingAndGlyphs">20</text>
<line x1="167.50" y1="322.50" x2="169.70" y2="322.50" stroke="#808080" stroke-width="1.00"/>
<text x="152.10" y="325.94" font-size="11.00" stroke="#333" stroke-width="0.22" textLength="11.50" lengthAdjust="spacingAndGlyphs">40</text>
<line x1="167.50" y1="292.50" x2="169.70" y2="292.50" stroke="#808080" stroke-width="1.00"/>
<text x="152.10" y="296.46" font-size="11.00" stroke="#333" stroke-width="0.22" textLength="11.50" lengthAdjust="spacingAndGlyphs">60</text>
<line x1="167.50" y1="263.50" x2="169.70" y2="263.50" stroke="#808080" stroke-width="1.00"/>
<text x="152.10" y="266.98" font-size="11.00" stroke="#333" stroke-width="0.22" textLength="11.50" lengthAdjust="spacingAndGlyphs">80</text>
<line x1="178.40" y1="377.60" x2="178.40" y2="378.20" stroke="#2a2a2a" stroke-width="0.70"/>
<line x1="177.10" y1="377.60" x2="179.70" y2="377.60" stroke="#2a2a2a" stroke-width="0.70"/>
<circle cx="174.50" cy="378.40" r="1.25" fill="none" stroke="#2a2a2a" stroke-width="0.75"/>
<circle cx="178.40" cy="378.20" r="1.25" fill="none" stroke="#2a2a2a" stroke-width="0.75"/>
<circle cx="182.30" cy="378.40" r="1.25" fill="none" stroke="#2a2a2a" stroke-width="0.75"/>
<line x1="192.45" y1="360.97" x2="192.45" y2="362.57" stroke="#2a2a2a" stroke-width="0.70"/>
<line x1="191.15" y1="360.97" x2="193.75" y2="360.97" stroke="#2a2a2a" stroke-width="0.70"/>
<circle cx="188.55" cy="363.88" r="1.25" fill="none" stroke="#2a2a2a" stroke-width="0.75"/>
<circle cx="196.35" cy="363.38" r="1.25" fill="none" stroke="#2a2a2a" stroke-width="0.75"/>
<circle cx="192.45" cy="360.97" r="1.25" fill="none" stroke="#2a2a2a" stroke-width="0.75"/>
<line x1="206.50" y1="371.56" x2="206.50" y2="372.16" stroke="#2a2a2a" stroke-width="0.70"/>
<line x1="205.20" y1="371.56" x2="207.80" y2="371.56" stroke="#2a2a2a" stroke-width="0.70"/>
<circle cx="202.60" cy="372.46" r="1.25" fill="none" stroke="#2a2a2a" stroke-width="0.75"/>
<circle cx="206.50" cy="372.16" r="1.25" fill="none" stroke="#2a2a2a" stroke-width="0.75"/>
<circle cx="210.40" cy="372.46" r="1.25" fill="none" stroke="#2a2a2a" stroke-width="0.75"/>
<line x1="220.55" y1="327.52" x2="220.55" y2="329.12" stroke="#2a2a2a" stroke-width="0.70"/>
<line x1="219.25" y1="327.52" x2="221.85" y2="327.52" stroke="#2a2a2a" stroke-width="0.70"/>
<circle cx="216.65" cy="330.42" r="1.25" fill="none" stroke="#2a2a2a" stroke-width="0.75"/>
<circle cx="224.45" cy="329.92" r="1.25" fill="none" stroke="#2a2a2a" stroke-width="0.75"/>
<circle cx="220.55" cy="327.52" r="1.25" fill="none" stroke="#2a2a2a" stroke-width="0.75"/>
<line x1="245.00" y1="365.54" x2="245.00" y2="367.14" stroke="#2a2a2a" stroke-width="0.70"/>
<line x1="243.70" y1="365.54" x2="246.30" y2="365.54" stroke="#2a2a2a" stroke-width="0.70"/>
<circle cx="241.10" cy="368.44" r="1.25" fill="none" stroke="#2a2a2a" stroke-width="0.75"/>
<circle cx="248.90" cy="367.94" r="1.25" fill="none" stroke="#2a2a2a" stroke-width="0.75"/>
<circle cx="245.00" cy="365.54" r="1.25" fill="none" stroke="#2a2a2a" stroke-width="0.75"/>
<line x1="259.05" y1="300.85" x2="259.05" y2="307.55" stroke="#2a2a2a" stroke-width="0.70"/>
<line x1="257.75" y1="300.85" x2="260.35" y2="300.85" stroke="#2a2a2a" stroke-width="0.70"/>
<circle cx="259.05" cy="302.65" r="1.25" fill="none" stroke="#2a2a2a" stroke-width="0.75"/>
<circle cx="264.05" cy="300.85" r="1.25" fill="none" stroke="#2a2a2a" stroke-width="0.75"/>
<circle cx="259.05" cy="307.55" r="1.25" fill="none" stroke="#2a2a2a" stroke-width="0.75"/>
<line x1="273.10" y1="365.08" x2="273.10" y2="365.68" stroke="#2a2a2a" stroke-width="0.70"/>
<line x1="271.80" y1="365.08" x2="274.40" y2="365.08" stroke="#2a2a2a" stroke-width="0.70"/>
<circle cx="269.20" cy="365.98" r="1.25" fill="none" stroke="#2a2a2a" stroke-width="0.75"/>
<circle cx="273.10" cy="365.68" r="1.25" fill="none" stroke="#2a2a2a" stroke-width="0.75"/>
<circle cx="277.00" cy="365.98" r="1.25" fill="none" stroke="#2a2a2a" stroke-width="0.75"/>
<circle cx="283.25" cy="293.36" r="1.25" fill="none" stroke="#2a2a2a" stroke-width="0.75"/>
<circle cx="287.15" cy="293.16" r="1.25" fill="none" stroke="#2a2a2a" stroke-width="0.75"/>
<circle cx="291.05" cy="293.36" r="1.25" fill="none" stroke="#2a2a2a" stroke-width="0.75"/>
<line x1="312.00" y1="369.23" x2="312.00" y2="370.83" stroke="#2a2a2a" stroke-width="0.70"/>
<line x1="310.70" y1="369.23" x2="313.30" y2="369.23" stroke="#2a2a2a" stroke-width="0.70"/>
<circle cx="308.10" cy="372.13" r="1.25" fill="none" stroke="#2a2a2a" stroke-width="0.75"/>
<circle cx="315.90" cy="371.63" r="1.25" fill="none" stroke="#2a2a2a" stroke-width="0.75"/>
<circle cx="312.00" cy="369.23" r="1.25" fill="none" stroke="#2a2a2a" stroke-width="0.75"/>
<circle cx="322.15" cy="347.90" r="1.25" fill="none" stroke="#2a2a2a" stroke-width="0.75"/>
<circle cx="326.05" cy="347.30" r="1.25" fill="none" stroke="#2a2a2a" stroke-width="0.75"/>
<circle cx="329.95" cy="347.90" r="1.25" fill="none" stroke="#2a2a2a" stroke-width="0.75"/>
<line x1="340.10" y1="368.17" x2="340.10" y2="368.77" stroke="#2a2a2a" stroke-width="0.70"/>
<line x1="338.80" y1="368.17" x2="341.40" y2="368.17" stroke="#2a2a2a" stroke-width="0.70"/>
<circle cx="336.20" cy="369.07" r="1.25" fill="none" stroke="#2a2a2a" stroke-width="0.75"/>
<circle cx="340.10" cy="368.77" r="1.25" fill="none" stroke="#2a2a2a" stroke-width="0.75"/>
<circle cx="344.00" cy="369.07" r="1.25" fill="none" stroke="#2a2a2a" stroke-width="0.75"/>
<line x1="354.15" y1="313.44" x2="354.15" y2="320.14" stroke="#2a2a2a" stroke-width="0.70"/>
<line x1="352.85" y1="313.44" x2="355.45" y2="313.44" stroke="#2a2a2a" stroke-width="0.70"/>
<circle cx="354.15" cy="313.94" r="1.25" fill="none" stroke="#2a2a2a" stroke-width="0.75"/>
<circle cx="354.15" cy="320.14" r="1.25" fill="none" stroke="#2a2a2a" stroke-width="0.75"/>
<circle cx="354.15" cy="322.64" r="1.25" fill="none" stroke="#2a2a2a" stroke-width="0.75"/>
<line x1="192.90" y1="304.50" x2="220.50" y2="304.50" stroke="#8a8a8a" stroke-width="1.00"/>
<polygon points="200.40,297.88 201.07,299.51 202.83,299.65 201.49,300.79 201.90,302.50 200.40,301.58 198.90,302.50 199.31,300.79 197.97,299.65 199.73,299.51" fill="#3c3c3c"/>
<polygon points="204.80,297.88 205.47,299.51 207.23,299.65 205.89,300.79 206.30,302.50 204.80,301.58 203.30,302.50 203.71,300.79 202.37,299.65 204.13,299.51" fill="#3c3c3c"/>
<polygon points="209.20,297.88 209.87,299.51 211.63,299.65 210.29,300.79 210.70,302.50 209.20,301.58 207.70,302.50 208.11,300.79 206.77,299.65 208.53,299.51" fill="#3c3c3c"/>
<polygon points="213.60,297.88 214.27,299.51 216.03,299.65 214.69,300.79 215.10,302.50 213.60,301.58 212.10,302.50 212.51,300.79 211.17,299.65 212.93,299.51" fill="#3c3c3c"/>
<line x1="206.50" y1="314.50" x2="220.50" y2="314.50" stroke="#8a8a8a" stroke-width="1.00"/>
<polygon points="207.20,307.88 207.87,309.51 209.63,309.65 208.29,310.79 208.70,312.50 207.20,311.58 205.70,312.50 206.11,310.79 204.77,309.65 206.53,309.51" fill="#3c3c3c"/>
<polygon points="211.60,307.88 212.27,309.51 214.03,309.65 212.69,310.79 213.10,312.50 211.60,311.58 210.10,312.50 210.51,310.79 209.17,309.65 210.93,309.51" fill="#3c3c3c"/>
<polygon points="216.00,307.88 216.67,309.51 218.43,309.65 217.09,310.79 217.50,312.50 216.00,311.58 214.50,312.50 214.91,310.79 213.57,309.65 215.33,309.51" fill="#3c3c3c"/>
<polygon points="220.40,307.88 221.07,309.51 222.83,309.65 221.49,310.79 221.90,312.50 220.40,311.58 218.90,312.50 219.31,310.79 217.97,309.65 219.73,309.51" fill="#3c3c3c"/>
<text x="213.14" y="322.50" font-size="11.00" stroke="#333" stroke-width="0.22" textLength="16.17" lengthAdjust="spacingAndGlyphs">11x</text>
<line x1="259.30" y1="271.50" x2="287.20" y2="271.50" stroke="#8a8a8a" stroke-width="1.00"/>
<polygon points="271.35,264.88 272.02,266.51 273.78,266.65 272.44,267.79 272.85,269.50 271.35,268.58 269.85,269.50 270.26,267.79 268.92,266.65 270.68,266.51" fill="#3c3c3c"/>
<polygon points="275.75,264.88 276.42,266.51 278.18,266.65 276.84,267.79 277.25,269.50 275.75,268.58 274.25,269.50 274.66,267.79 273.32,266.65 275.08,266.51" fill="#3c3c3c"/>
<line x1="273.20" y1="280.50" x2="287.20" y2="280.50" stroke="#8a8a8a" stroke-width="1.00"/>
<polygon points="273.90,273.88 274.57,275.51 276.33,275.65 274.99,276.79 275.40,278.50 273.90,277.58 272.40,278.50 272.81,276.79 271.47,275.65 273.23,275.51" fill="#3c3c3c"/>
<polygon points="278.30,273.88 278.97,275.51 280.73,275.65 279.39,276.79 279.80,278.50 278.30,277.58 276.80,278.50 277.21,276.79 275.87,275.65 277.63,275.51" fill="#3c3c3c"/>
<polygon points="282.70,273.88 283.37,275.51 285.13,275.65 283.79,276.79 284.20,278.50 282.70,277.58 281.20,278.50 281.61,276.79 280.27,275.65 282.03,275.51" fill="#3c3c3c"/>
<polygon points="287.10,273.88 287.77,275.51 289.53,275.65 288.19,276.79 288.60,278.50 287.10,277.58 285.60,278.50 286.01,276.79 284.67,275.65 286.43,275.51" fill="#3c3c3c"/>
<text x="282.30" y="289.50" font-size="11.00" stroke="#333" stroke-width="0.22" textLength="10.30" lengthAdjust="spacingAndGlyphs">6x</text>
<line x1="325.80" y1="293.50" x2="353.30" y2="293.50" stroke="#8a8a8a" stroke-width="1.00"/>
<polygon points="335.45,286.88 336.12,288.51 337.88,288.65 336.54,289.79 336.95,291.50 335.45,290.58 333.95,291.50 334.36,289.79 333.02,288.65 334.78,288.51" fill="#3c3c3c"/>
<polygon points="339.85,286.88 340.52,288.51 342.28,288.65 340.94,289.79 341.35,291.50 339.85,290.58 338.35,291.50 338.76,289.79 337.42,288.65 339.18,288.51" fill="#3c3c3c"/>
<polygon points="344.25,286.88 344.92,288.51 346.68,288.65 345.34,289.79 345.75,291.50 344.25,290.58 342.75,291.50 343.16,289.79 341.82,288.65 343.58,288.51" fill="#3c3c3c"/>
<line x1="339.40" y1="302.50" x2="353.30" y2="302.50" stroke="#8a8a8a" stroke-width="1.00"/>
<polygon points="340.05,295.88 340.72,297.51 342.48,297.65 341.14,298.79 341.55,300.50 340.05,299.58 338.55,300.50 338.96,298.79 337.62,297.65 339.38,297.51" fill="#3c3c3c"/>
<polygon points="344.45,295.88 345.12,297.51 346.88,297.65 345.54,298.79 345.95,300.50 344.45,299.58 342.95,300.50 343.36,298.79 342.02,297.65 343.78,297.51" fill="#3c3c3c"/>
<polygon points="348.85,295.88 349.52,297.51 351.28,297.65 349.94,298.79 350.35,300.50 348.85,299.58 347.35,300.50 347.76,298.79 346.42,297.65 348.18,297.51" fill="#3c3c3c"/>
<polygon points="353.25,295.88 353.92,297.51 355.68,297.65 354.34,298.79 354.75,300.50 353.25,299.58 351.75,300.50 352.16,298.79 350.82,297.65 352.58,297.51" fill="#3c3c3c"/>
<text x="348.72" y="311.60" font-size="11.00" stroke="#333" stroke-width="0.22" textLength="9.98" lengthAdjust="spacingAndGlyphs">6x</text>
<text x="187.29" y="393.60" font-size="10.40" font-style="italic" stroke="#333" stroke-width="0.22" textLength="25.09" lengthAdjust="spacingAndGlyphs">CCR5</text>
<text x="253.68" y="393.60" font-size="10.40" font-style="italic" stroke="#333" stroke-width="0.22" textLength="24.07" lengthAdjust="spacingAndGlyphs">CD34</text>
<text x="320.93" y="393.60" font-size="10.40" font-style="italic" stroke="#333" stroke-width="0.22" textLength="23.31" lengthAdjust="spacingAndGlyphs">RNF2</text>
<text transform="rotate(-90)" x="-341.72" y="147.60" font-size="10.00" font-weight="bold" fill="#3a3a3a" stroke="#3a3a3a" stroke-width="0.22" textLength="21.57" lengthAdjust="spacingAndGlyphs">Indel</text>
<text transform="rotate(-90)" x="-317.63" y="147.60" font-size="10.00" textLength="15.87" lengthAdjust="spacingAndGlyphs" stroke="none">(%)</text>
<text x="374.82" y="252.30" font-size="10.20" font-weight="bold" fill="#000" stroke="#000" stroke-width="0.22" textLength="6.63" lengthAdjust="spacingAndGlyphs">C</text>
<rect x="557.00" y="380.41" width="10.60" height="0.59" fill="#cacaca"/>
<rect x="571.00" y="368.22" width="10.60" height="12.78" fill="#b9d26b"/>
<rect x="585.00" y="379.82" width="10.60" height="1.18" fill="#d8bc55"/>
<rect x="599.00" y="327.31" width="10.60" height="53.69" fill="#a6c3e0"/>
<rect x="623.10" y="380.41" width="10.60" height="0.59" fill="#cacaca"/>
<rect x="637.10" y="333.80" width="10.60" height="47.20" fill="#b9d26b"/>
<rect x="651.10" y="367.04" width="10.60" height="13.96" fill="#d8bc55"/>
<rect x="665.10" y="277.17" width="10.60" height="103.83" fill="#a6c3e0"/>
<rect x="690.20" y="380.80" width="10.60" height="0.20" fill="#cacaca"/>
<rect x="704.20" y="371.95" width="10.60" height="9.05" fill="#b9d26b"/>
<rect x="718.20" y="376.48" width="10.60" height="4.52" fill="#d8bc55"/>
<rect x="732.20" y="320.63" width="10.60" height="60.37" fill="#a6c3e0"/>
<line x1="551.50" y1="381.00" x2="748.80" y2="381.00" stroke="#888888" stroke-width="1.00"/>
<line x1="551.50" y1="263.01" x2="551.50" y2="381.00" stroke="#888888" stroke-width="1.00"/>
<line x1="551.50" y1="381.50" x2="553.70" y2="381.50" stroke="#888888" stroke-width="1.00"/>
<text x="541.95" y="384.90" font-size="11.00" stroke="#333" stroke-width="0.22" textLength="5.75" lengthAdjust="spacingAndGlyphs">0</text>
<line x1="551.50" y1="341.50" x2="553.70" y2="341.50" stroke="#888888" stroke-width="1.00"/>
<text x="536.20" y="345.57" font-size="11.00" stroke="#333" stroke-width="0.22" textLength="11.50" lengthAdjust="spacingAndGlyphs">20</text>
<line x1="551.50" y1="302.50" x2="553.70" y2="302.50" stroke="#888888" stroke-width="1.00"/>
<text x="536.20" y="306.24" font-size="11.00" stroke="#333" stroke-width="0.22" textLength="11.50" lengthAdjust="spacingAndGlyphs">40</text>
<line x1="551.50" y1="263.50" x2="553.70" y2="263.50" stroke="#888888" stroke-width="1.00"/>
<text x="536.20" y="266.91" font-size="11.00" stroke="#333" stroke-width="0.22" textLength="11.50" lengthAdjust="spacingAndGlyphs">60</text>
<line x1="562.30" y1="379.81" x2="562.30" y2="380.41" stroke="#2a2a2a" stroke-width="0.70"/>
<line x1="561.00" y1="379.81" x2="563.60" y2="379.81" stroke="#2a2a2a" stroke-width="0.70"/>
<circle cx="558.40" cy="380.61" r="1.25" fill="none" stroke="#2a2a2a" stroke-width="0.75"/>
<circle cx="562.30" cy="380.41" r="1.25" fill="none" stroke="#2a2a2a" stroke-width="0.75"/>
<circle cx="566.20" cy="380.61" r="1.25" fill="none" stroke="#2a2a2a" stroke-width="0.75"/>
<circle cx="572.40" cy="369.02" r="1.25" fill="none" stroke="#2a2a2a" stroke-width="0.75"/>
<circle cx="576.30" cy="368.42" r="1.25" fill="none" stroke="#2a2a2a" stroke-width="0.75"/>
<circle cx="580.20" cy="369.02" r="1.25" fill="none" stroke="#2a2a2a" stroke-width="0.75"/>
<line x1="590.30" y1="379.22" x2="590.30" y2="379.82" stroke="#2a2a2a" stroke-width="0.70"/>
<line x1="589.00" y1="379.22" x2="591.60" y2="379.22" stroke="#2a2a2a" stroke-width="0.70"/>
<circle cx="586.40" cy="380.02" r="1.25" fill="none" stroke="#2a2a2a" stroke-width="0.75"/>
<circle cx="590.30" cy="379.82" r="1.25" fill="none" stroke="#2a2a2a" stroke-width="0.75"/>
<circle cx="594.20" cy="380.02" r="1.25" fill="none" stroke="#2a2a2a" stroke-width="0.75"/>
<line x1="604.30" y1="325.61" x2="604.30" y2="330.31" stroke="#2a2a2a" stroke-width="0.70"/>
<line x1="603.00" y1="325.61" x2="605.60" y2="325.61" stroke="#2a2a2a" stroke-width="0.70"/>
<circle cx="604.30" cy="325.61" r="1.25" fill="none" stroke="#2a2a2a" stroke-width="0.75"/>
<circle cx="607.70" cy="324.81" r="1.25" fill="none" stroke="#2a2a2a" stroke-width="0.75"/>
<circle cx="604.30" cy="330.31" r="1.25" fill="none" stroke="#2a2a2a" stroke-width="0.75"/>
<line x1="628.40" y1="379.81" x2="628.40" y2="380.41" stroke="#2a2a2a" stroke-width="0.70"/>
<line x1="627.10" y1="379.81" x2="629.70" y2="379.81" stroke="#2a2a2a" stroke-width="0.70"/>
<circle cx="624.50" cy="380.61" r="1.25" fill="none" stroke="#2a2a2a" stroke-width="0.75"/>
<circle cx="628.40" cy="380.41" r="1.25" fill="none" stroke="#2a2a2a" stroke-width="0.75"/>
<circle cx="632.30" cy="380.61" r="1.25" fill="none" stroke="#2a2a2a" stroke-width="0.75"/>
<line x1="642.40" y1="332.40" x2="642.40" y2="333.80" stroke="#2a2a2a" stroke-width="0.70"/>
<line x1="641.10" y1="332.40" x2="643.70" y2="332.40" stroke="#2a2a2a" stroke-width="0.70"/>
<circle cx="638.50" cy="334.60" r="1.25" fill="none" stroke="#2a2a2a" stroke-width="0.75"/>
<circle cx="642.40" cy="332.60" r="1.25" fill="none" stroke="#2a2a2a" stroke-width="0.75"/>
<circle cx="646.30" cy="334.60" r="1.25" fill="none" stroke="#2a2a2a" stroke-width="0.75"/>
<line x1="656.40" y1="365.44" x2="656.40" y2="367.04" stroke="#2a2a2a" stroke-width="0.70"/>
<line x1="655.10" y1="365.44" x2="657.70" y2="365.44" stroke="#2a2a2a" stroke-width="0.70"/>
<circle cx="652.50" cy="368.34" r="1.25" fill="none" stroke="#2a2a2a" stroke-width="0.75"/>
<circle cx="660.30" cy="367.84" r="1.25" fill="none" stroke="#2a2a2a" stroke-width="0.75"/>
<circle cx="656.40" cy="365.44" r="1.25" fill="none" stroke="#2a2a2a" stroke-width="0.75"/>
<line x1="670.40" y1="272.47" x2="670.40" y2="281.77" stroke="#2a2a2a" stroke-width="0.70"/>
<line x1="669.10" y1="272.47" x2="671.70" y2="272.47" stroke="#2a2a2a" stroke-width="0.70"/>
<circle cx="670.40" cy="272.47" r="1.25" fill="none" stroke="#2a2a2a" stroke-width="0.75"/>
<circle cx="670.40" cy="277.67" r="1.25" fill="none" stroke="#2a2a2a" stroke-width="0.75"/>
<circle cx="670.40" cy="281.77" r="1.25" fill="none" stroke="#2a2a2a" stroke-width="0.75"/>
<line x1="695.50" y1="380.20" x2="695.50" y2="380.80" stroke="#2a2a2a" stroke-width="0.70"/>
<line x1="694.20" y1="380.20" x2="696.80" y2="380.20" stroke="#2a2a2a" stroke-width="0.70"/>
<circle cx="691.60" cy="381.00" r="1.25" fill="none" stroke="#2a2a2a" stroke-width="0.75"/>
<circle cx="695.50" cy="380.80" r="1.25" fill="none" stroke="#2a2a2a" stroke-width="0.75"/>
<circle cx="699.40" cy="381.00" r="1.25" fill="none" stroke="#2a2a2a" stroke-width="0.75"/>
<line x1="709.50" y1="371.35" x2="709.50" y2="371.95" stroke="#2a2a2a" stroke-width="0.70"/>
<line x1="708.20" y1="371.35" x2="710.80" y2="371.35" stroke="#2a2a2a" stroke-width="0.70"/>
<circle cx="705.60" cy="372.15" r="1.25" fill="none" stroke="#2a2a2a" stroke-width="0.75"/>
<circle cx="709.50" cy="371.95" r="1.25" fill="none" stroke="#2a2a2a" stroke-width="0.75"/>
<circle cx="713.40" cy="372.15" r="1.25" fill="none" stroke="#2a2a2a" stroke-width="0.75"/>
<line x1="723.50" y1="375.88" x2="723.50" y2="376.48" stroke="#2a2a2a" stroke-width="0.70"/>
<line x1="722.20" y1="375.88" x2="724.80" y2="375.88" stroke="#2a2a2a" stroke-width="0.70"/>
<circle cx="719.60" cy="376.68" r="1.25" fill="none" stroke="#2a2a2a" stroke-width="0.75"/>
<circle cx="723.50" cy="376.48" r="1.25" fill="none" stroke="#2a2a2a" stroke-width="0.75"/>
<circle cx="727.40" cy="376.68" r="1.25" fill="none" stroke="#2a2a2a" stroke-width="0.75"/>
<line x1="737.50" y1="311.63" x2="737.50" y2="320.63" stroke="#2a2a2a" stroke-width="0.70"/>
<line x1="736.20" y1="311.63" x2="738.80" y2="311.63" stroke="#2a2a2a" stroke-width="0.70"/>
<circle cx="733.50" cy="325.63" r="1.25" fill="none" stroke="#2a2a2a" stroke-width="0.75"/>
<circle cx="741.50" cy="324.63" r="1.25" fill="none" stroke="#2a2a2a" stroke-width="0.75"/>
<circle cx="737.50" cy="311.63" r="1.25" fill="none" stroke="#2a2a2a" stroke-width="0.75"/>
<line x1="576.40" y1="304.50" x2="604.20" y2="304.50" stroke="#8a8a8a" stroke-width="1.00"/>
<polygon points="584.00,297.88 584.67,299.51 586.43,299.65 585.09,300.79 585.50,302.50 584.00,301.58 582.50,302.50 582.91,300.79 581.57,299.65 583.33,299.51" fill="#3c3c3c"/>
<polygon points="588.40,297.88 589.07,299.51 590.83,299.65 589.49,300.79 589.90,302.50 588.40,301.58 586.90,302.50 587.31,300.79 585.97,299.65 587.73,299.51" fill="#3c3c3c"/>
<polygon points="592.80,297.88 593.47,299.51 595.23,299.65 593.89,300.79 594.30,302.50 592.80,301.58 591.30,302.50 591.71,300.79 590.37,299.65 592.13,299.51" fill="#3c3c3c"/>
<polygon points="597.20,297.88 597.87,299.51 599.63,299.65 598.29,300.79 598.70,302.50 597.20,301.58 595.70,302.50 596.11,300.79 594.77,299.65 596.53,299.51" fill="#3c3c3c"/>
<line x1="590.30" y1="313.50" x2="604.20" y2="313.50" stroke="#8a8a8a" stroke-width="1.00"/>
<polygon points="590.95,306.88 591.62,308.51 593.38,308.65 592.04,309.79 592.45,311.50 590.95,310.58 589.45,311.50 589.86,309.79 588.52,308.65 590.28,308.51" fill="#3c3c3c"/>
<polygon points="595.35,306.88 596.02,308.51 597.78,308.65 596.44,309.79 596.85,311.50 595.35,310.58 593.85,311.50 594.26,309.79 592.92,308.65 594.68,308.51" fill="#3c3c3c"/>
<polygon points="599.75,306.88 600.42,308.51 602.18,308.65 600.84,309.79 601.25,311.50 599.75,310.58 598.25,311.50 598.66,309.79 597.32,308.65 599.08,308.51" fill="#3c3c3c"/>
<polygon points="604.15,306.88 604.82,308.51 606.58,308.65 605.24,309.79 605.65,311.50 604.15,310.58 602.65,311.50 603.06,309.79 601.72,308.65 603.48,308.51" fill="#3c3c3c"/>
<text x="594.78" y="322.50" font-size="11.00" stroke="#333" stroke-width="0.22" textLength="21.13" lengthAdjust="spacingAndGlyphs">465x</text>
<line x1="643.10" y1="251.50" x2="671.00" y2="251.50" stroke="#8a8a8a" stroke-width="1.00"/>
<polygon points="650.75,244.88 651.42,246.51 653.18,246.65 651.84,247.79 652.25,249.50 650.75,248.58 649.25,249.50 649.66,247.79 648.32,246.65 650.08,246.51" fill="#3c3c3c"/>
<polygon points="655.15,244.88 655.82,246.51 657.58,246.65 656.24,247.79 656.65,249.50 655.15,248.58 653.65,249.50 654.06,247.79 652.72,246.65 654.48,246.51" fill="#3c3c3c"/>
<polygon points="659.55,244.88 660.22,246.51 661.98,246.65 660.64,247.79 661.05,249.50 659.55,248.58 658.05,249.50 658.46,247.79 657.12,246.65 658.88,246.51" fill="#3c3c3c"/>
<polygon points="663.95,244.88 664.62,246.51 666.38,246.65 665.04,247.79 665.45,249.50 663.95,248.58 662.45,249.50 662.86,247.79 661.52,246.65 663.28,246.51" fill="#3c3c3c"/>
<line x1="657.10" y1="260.50" x2="671.00" y2="260.50" stroke="#8a8a8a" stroke-width="1.00"/>
<polygon points="657.75,253.88 658.42,255.51 660.18,255.65 658.84,256.79 659.25,258.50 657.75,257.58 656.25,258.50 656.66,256.79 655.32,255.65 657.08,255.51" fill="#3c3c3c"/>
<polygon points="662.15,253.88 662.82,255.51 664.58,255.65 663.24,256.79 663.65,258.50 662.15,257.58 660.65,258.50 661.06,256.79 659.72,255.65 661.48,255.51" fill="#3c3c3c"/>
<polygon points="666.55,253.88 667.22,255.51 668.98,255.65 667.64,256.79 668.05,258.50 666.55,257.58 665.05,258.50 665.46,256.79 664.12,255.65 665.88,255.51" fill="#3c3c3c"/>
<polygon points="670.95,253.88 671.62,255.51 673.38,255.65 672.04,256.79 672.45,258.50 670.95,257.58 669.45,258.50 669.86,256.79 668.52,255.65 670.28,255.51" fill="#3c3c3c"/>
<text x="660.92" y="269.70" font-size="11.00" stroke="#333" stroke-width="0.22" textLength="22.09" lengthAdjust="spacingAndGlyphs">119x</text>
<line x1="709.30" y1="289.50" x2="737.20" y2="289.50" stroke="#8a8a8a" stroke-width="1.00"/>
<polygon points="719.15,282.88 719.82,284.51 721.58,284.65 720.24,285.79 720.65,287.50 719.15,286.58 717.65,287.50 718.06,285.79 716.72,284.65 718.48,284.51" fill="#3c3c3c"/>
<polygon points="723.55,282.88 724.22,284.51 725.98,284.65 724.64,285.79 725.05,287.50 723.55,286.58 722.05,287.50 722.46,285.79 721.12,284.65 722.88,284.51" fill="#3c3c3c"/>
<polygon points="727.95,282.88 728.62,284.51 730.38,284.65 729.04,285.79 729.45,287.50 727.95,286.58 726.45,287.50 726.86,285.79 725.52,284.65 727.28,284.51" fill="#3c3c3c"/>
<line x1="723.50" y1="298.50" x2="737.20" y2="298.50" stroke="#8a8a8a" stroke-width="1.00"/>
<polygon points="726.25,291.88 726.92,293.51 728.68,293.65 727.34,294.79 727.75,296.50 726.25,295.58 724.75,296.50 725.16,294.79 723.82,293.65 725.58,293.51" fill="#3c3c3c"/>
<polygon points="730.65,291.88 731.32,293.51 733.08,293.65 731.74,294.79 732.15,296.50 730.65,295.58 729.15,296.50 729.56,294.79 728.22,293.65 729.98,293.51" fill="#3c3c3c"/>
<polygon points="735.05,291.88 735.72,293.51 737.48,293.65 736.14,294.79 736.55,296.50 735.05,295.58 733.55,296.50 733.96,294.79 732.62,293.65 734.38,293.51" fill="#3c3c3c"/>
<text x="727.09" y="308.10" font-size="11.00" stroke="#333" stroke-width="0.22" textLength="21.92" lengthAdjust="spacingAndGlyphs">271x</text>
<text x="569.65" y="393.60" font-size="10.40" font-style="italic" stroke="#333" stroke-width="0.22" textLength="29.32" lengthAdjust="spacingAndGlyphs">AAVS1</text>
<text x="637.50" y="393.60" font-size="10.40" font-style="italic" stroke="#333" stroke-width="0.22" textLength="24.68" lengthAdjust="spacingAndGlyphs">CCR5</text>
<text x="704.08" y="393.60" font-size="10.40" font-style="italic" stroke="#333" stroke-width="0.22" textLength="24.28" lengthAdjust="spacingAndGlyphs">CD34</text>
<text transform="rotate(-90)" x="-341.62" y="529.40" font-size="10.00" font-weight="bold" fill="#3a3a3a" stroke="#3a3a3a" stroke-width="0.22" textLength="21.57" lengthAdjust="spacingAndGlyphs">Indel</text>
<text transform="rotate(-90)" x="-317.63" y="529.40" font-size="10.00" textLength="15.87" lengthAdjust="spacingAndGlyphs" stroke="none">(%)</text>
<rect x="0.00" y="308.00" width="133.90" height="73.00" fill="#f0f5f9"/>
<line x1="0.00" y1="308.50" x2="133.90" y2="308.50" stroke="#c4dbe6" stroke-width="1.00"/>
<line x1="0.00" y1="321.80" x2="133.90" y2="321.80" stroke="#c4dbe6" stroke-width="1.00" stroke-dasharray="2 3.7"/>
<line x1="2.00" y1="380.80" x2="131.90" y2="380.80" stroke="#c4dbe6" stroke-width="1.00"/>
<rect x="28.80" y="293.20" width="10.00" height="9.70" fill="#cacaca"/>
<text x="43.16" y="301.90" font-size="10.60" stroke="#333" stroke-width="0.22" textLength="63.15" lengthAdjust="spacingAndGlyphs">WT AaCas12b</text>
<text x="5.09" y="318.00" font-size="10.60" stroke="#333" stroke-width="0.22" textLength="52.42" lengthAdjust="spacingAndGlyphs">MIDAS step</text>
<text x="79.86" y="318.00" font-size="10.60" stroke="#333" stroke-width="0.22" textLength="36.60" lengthAdjust="spacingAndGlyphs">Variants</text>
<rect x="54.20" y="328.00" width="10.60" height="10.20" fill="#b9d26b"/>
<rect x="54.20" y="343.60" width="10.60" height="10.20" fill="#d8bc55"/>
<rect x="54.20" y="363.20" width="10.60" height="10.20" fill="#a6c3e0"/>
<text x="24.01" y="336.40" font-size="10.30" stroke="#333" stroke-width="0.22" textLength="15.50" lengthAdjust="spacingAndGlyphs">EIP</text>
<text x="70.94" y="336.60" font-size="10.30" stroke="#333" stroke-width="0.22" textLength="62.11" lengthAdjust="spacingAndGlyphs">Q119F/E475R</text>
<text x="24.05" y="351.70" font-size="10.30" stroke="#333" stroke-width="0.22" textLength="14.77" lengthAdjust="spacingAndGlyphs">EIS</text>
<text x="82.81" y="351.90" font-size="10.30" stroke="#333" stroke-width="0.22" textLength="29.33" lengthAdjust="spacingAndGlyphs">E758R</text>
<text x="25.38" y="371.30" font-size="10.30" stroke="#333" stroke-width="0.22" textLength="12.42" lengthAdjust="spacingAndGlyphs">SE</text>
<text x="67.13" y="366.50" font-size="10.30" stroke="#333" stroke-width="0.22" textLength="65.87" lengthAdjust="spacingAndGlyphs">Q119F/E475R/</text>
<text x="85.22" y="377.90" font-size="10.30" stroke="#333" stroke-width="0.22" textLength="29.23" lengthAdjust="spacingAndGlyphs">E758R</text>
<rect x="381.70" y="308.00" width="134.60" height="73.00" fill="#f0f5f9"/>
<line x1="381.70" y1="308.50" x2="516.30" y2="308.50" stroke="#c4dbe6" stroke-width="1.00"/>
<line x1="381.70" y1="321.80" x2="516.30" y2="321.80" stroke="#c4dbe6" stroke-width="1.00" stroke-dasharray="2 3.7"/>
<line x1="383.70" y1="380.80" x2="514.30" y2="380.80" stroke="#c4dbe6" stroke-width="1.00"/>
<rect x="413.10" y="293.80" width="10.00" height="9.70" fill="#cacaca"/>
<text x="427.76" y="302.00" font-size="10.60" stroke="#333" stroke-width="0.22" textLength="57.44" lengthAdjust="spacingAndGlyphs">WT PlmCasX</text>
<text x="385.58" y="318.00" font-size="10.60" stroke="#333" stroke-width="0.22" textLength="53.03" lengthAdjust="spacingAndGlyphs">MIDAS step</text>
<text x="463.66" y="318.00" font-size="10.60" stroke="#333" stroke-width="0.22" textLength="36.20" lengthAdjust="spacingAndGlyphs">Variants</text>
<rect x="438.90" y="328.00" width="10.60" height="10.20" fill="#b9d26b"/>
<rect x="438.90" y="343.60" width="10.60" height="10.20" fill="#d8bc55"/>
<rect x="438.90" y="363.20" width="10.60" height="10.20" fill="#a6c3e0"/>
<text x="404.51" y="336.40" font-size="10.30" stroke="#333" stroke-width="0.22" textLength="15.60" lengthAdjust="spacingAndGlyphs">EIP</text>
<text x="457.78" y="336.60" font-size="10.30" stroke="#333" stroke-width="0.22" textLength="55.97" lengthAdjust="spacingAndGlyphs">T26R/K610R</text>
<text x="404.51" y="351.70" font-size="10.30" stroke="#333" stroke-width="0.22" textLength="15.53" lengthAdjust="spacingAndGlyphs">EIS</text>
<text x="466.70" y="351.90" font-size="10.30" stroke="#333" stroke-width="0.22" textLength="29.96" lengthAdjust="spacingAndGlyphs">K808R</text>
<text x="406.27" y="371.30" font-size="10.30" stroke="#333" stroke-width="0.22" textLength="12.53" lengthAdjust="spacingAndGlyphs">SE</text>
<text x="451.58" y="366.50" font-size="10.30" stroke="#333" stroke-width="0.22" textLength="60.52" lengthAdjust="spacingAndGlyphs">T26R/K610R/</text>
<text x="466.70" y="377.90" font-size="10.30" stroke="#333" stroke-width="0.22" textLength="29.96" lengthAdjust="spacingAndGlyphs">K808R</text>
</svg>
</body></html>
